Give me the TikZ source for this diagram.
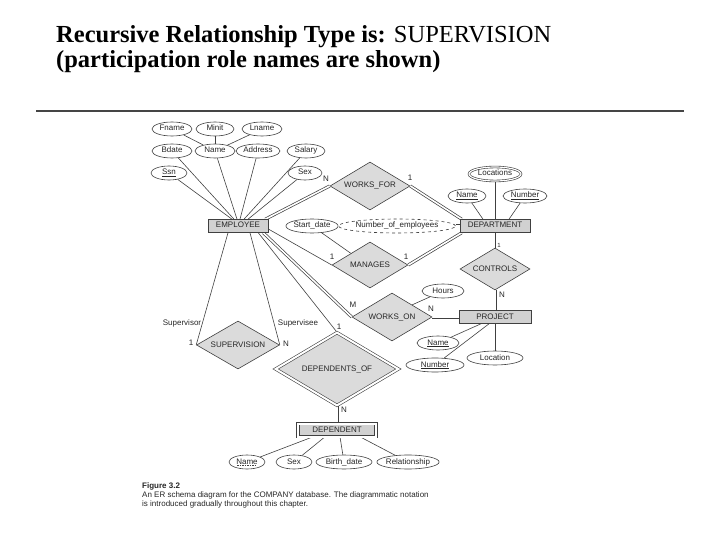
\documentclass[tikz,border=0pt]{standalone}
\usepackage{fontspec}
\setmainfont{Liberation Serif}
\newfontfamily\diag{Liberation Sans}
\usetikzlibrary{shapes.geometric,calc,backgrounds}
\definecolor{linec}{gray}{0.25}
\definecolor{txt}{gray}{0.15}
\definecolor{relfill}{gray}{0.86}
\definecolor{entfill}{gray}{0.82}
\definecolor{rulec}{gray}{0.27}
\tikzset{
  dfont/.style={font=\diag\fontsize{8}{9}\selectfont, text=txt},
  shp/.style={dfont, text height=5.7pt, text depth=1.7pt},
  attr/.style={ellipse, draw=linec, line width=0.6pt, fill=white, inner sep=0pt, minimum width=#1, minimum height=14, shp},
  attr/.default=40,
  entity/.style={rectangle, draw=linec, line width=0.6pt, fill=entfill, inner sep=0pt, minimum height=13, shp},
  rel/.style={diamond, aspect=2, draw=linec, line width=0.6pt, fill=relfill, inner sep=0pt, shp},
  conn/.style={draw=linec, line width=0.6pt},
  dbl/.style={draw=linec, line width=0.7pt, double=white, double distance=1.6pt},
  lbl/.style={dfont, inner sep=0pt},
  captxt/.style={font=\diag\fontsize{8}{9}\selectfont, text=txt, inner sep=0pt, anchor=base west},
  ttl/.style={font=\fontsize{24.5}{26}\selectfont\bfseries, inner sep=0pt, anchor=base west}
}
\begin{document}
\begin{tikzpicture}[x=1pt,y=-1pt]
\useasboundingbox (0,0) rectangle (720,540);
% title
\node[ttl] (t1) at (56,43) {Recursive Relationship Type is: \mdseries SUPERVISION};
\node[ttl] (t2) at (56,68) {(participation role names are shown)};
\draw[rulec, line width=2pt] (36,111) -- (684,111);
% EMPLOYEE attributes
\node[attr=40] (fname) at (172,129) {Fname};
\node[attr=38] (minit) at (215,129) {Minit};
\node[attr=40] (lname) at (262,129) {Lname};
\node[attr=40] (bdate) at (172,151) {Bdate};
\node[attr=40] (ename) at (215,151) {Name};
\node[attr=44] (addr) at (258,151) {Address};
\node[attr=38] (salary) at (306,151) {Salary};
\node[attr=36] (ssn) at (169,173) {\underline{Ssn}};
\node[attr=34] (sex) at (305,173) {Sex};
\node[entity, minimum width=60] (emp) at (238,226) {EMPLOYEE};
\node[attr=42] (sdate) at (312,226) {Start\_date};
\node[attr=96, dashed] (noe) at (397,226) {Number\_of\_employees};
% DEPARTMENT
\node[entity, minimum width=70] (dept) at (495,226) {DEPARTMENT};
\node[attr=52, double, double distance=1.2pt] (loc) at (495,174) {Locations};
\node[attr=38] (dname) at (467,196) {\underline{Name}};
\node[attr=44] (dnum) at (525,196) {\underline{Number}};
% relationships
\node[rel, minimum width=80, minimum height=48] (worksfor) at (370,186) {WORKS\_FOR};
\node[rel, minimum width=76, minimum height=46] (manages) at (370,265) {MANAGES};
\node[rel, minimum width=70, minimum height=42] (controls) at (495,269) {CONTROLS};
\node[attr=42] (hours) at (443,291) {Hours};
\node[rel, minimum width=80, minimum height=48] (workson) at (392,317) {WORKS\_ON};
\node[entity, minimum width=72] (proj) at (495,317) {PROJECT};
\node[attr=42] (pname) at (438,343) {\underline{Name}};
\node[attr=58] (pnum) at (435,365) {\underline{Number}};
\node[attr=56] (ploc) at (495,358) {Location};
\node[rel, minimum width=83, minimum height=48] (superv) at (238,345) {SUPERVISION};
\node[rel, double, double distance=2pt, minimum width=123, minimum height=73] (depof) at (337,369) {DEPENDENTS\_OF};
\node[entity, double, double distance=2pt, minimum width=78, minimum height=13] (dep) at (337,430) {DEPENDENT};
\node[attr=36] (depname) at (247,462) {Name};
\node[attr=36] (depsex) at (294,462) {Sex};
\node[attr=56] (bdate2) at (344,462) {Birth\_date};
\node[attr=56] (relship) at (408,462) {Relationship};
\draw[linec, line width=0.5pt, dash pattern=on 1.5pt off 1pt] ($(depname.center)+(-10,3.5)$) -- ($(depname.center)+(10,3.5)$);
% labels
\node[lbl] (lN1) at (326,179) {N};
\node[lbl] (l11) at (410,178) {1};
\node[lbl] (l12) at (332,257) {1};
\node[lbl] (l13) at (406,257) {1};
\node[lbl, font=\diag\fontsize{6}{7}\selectfont] (l14) at (499,245) {1};
\node[lbl] (lN2) at (502,295) {N};
\node[lbl] (lM) at (353,305) {M};
\node[lbl] (lN3) at (431,309) {N};
\node[lbl] (l15) at (339,327) {1};
\node[lbl] (lN4) at (344,410) {N};
\node[lbl] (lsor) at (182,323) {Supervisor};
\node[lbl] (lsee) at (298,323) {Supervisee};
\node[lbl] (l16) at (191,343) {1};
\node[lbl] (lN5) at (286,344) {N};
% caption
\node[captxt, font=\diag\bfseries\fontsize{8}{9}\selectfont] (fig) at (142,488) {Figure 3.2};
\node[captxt] (cap1) at (142,497) {An ER schema diagram for the COMPANY database. The diagrammatic notation};
\node[captxt] (cap2) at (142,506) {is introduced gradually throughout this chapter.};
% connectors
\begin{scope}[on background layer]
\draw[conn] (fname) -- (ename);
\draw[conn] (minit) -- (ename);
\draw[conn] (lname) -- (ename);
\draw[conn] (ssn) -- ($(emp.north)+(-6,0)$);
\draw[conn] (bdate) -- ($(emp.north)+(-4,0)$);
\draw[conn] (ename) -- ($(emp.north)+(-1,0)$);
\draw[conn] (addr) -- ($(emp.north)+(2,0)$);
\draw[conn] (salary) -- ($(emp.north)+(6,0)$);
\draw[conn] (sex) -- ($(emp.north)+(10,0)$);
\draw[dbl] ($(emp.north east)+(-3,0)$) -- (worksfor.west);
\draw[dbl] (worksfor.east) -- ($(dept.north west)+(2,0)$);
\draw[conn] ($(emp.east)+(0,3)$) -- (manages.west);
\draw[dbl] (manages.east) -- ($(dept.south west)+(2,0)$);
\draw[conn] (sdate) -- (manages.north west);
\draw[dbl] (noe) -- (dept.west);
\draw[conn] (loc) -- (dept.north);
\draw[conn] (dname) -- ($(dept.north)+(-12,0)$);
\draw[conn] (dnum) -- ($(dept.north)+(14,0)$);
\draw[conn] (dept.south) -- (controls.north);
\draw[dbl] (controls.south) -- (proj.north);
\draw[dbl] ($(emp.south east)+(-5,0)$) -- (workson.west);
\draw[dbl] (workson.east) -- (proj.west);
\draw[conn] (hours) -- (workson.north east);
\draw[conn] (pname) -- ($(proj.south)+(-14,0)$);
\draw[conn] (pnum) -- ($(proj.south)+(-6,0)$);
\draw[conn] (ploc) -- (proj.south);
\draw[conn] ($(emp.south)+(-10,0)$) -- (superv.west);
\draw[conn] ($(emp.south)+(12,0)$) -- (superv.east);
\draw[conn] ($(emp.south east)+(-10,0)$) -- (depof.north);
\draw[dbl] (depof.south) -- (dep.north);
\draw[conn] (depname) -- ($(dep.south)+(-24,0)$);
\draw[conn] (depsex) -- ($(dep.south)+(-12,0)$);
\draw[conn] (bdate2) -- ($(dep.south)+(3,0)$);
\draw[conn] (relship) -- ($(dep.south)+(23,0)$);
\end{scope}
\end{tikzpicture}
\end{document}
